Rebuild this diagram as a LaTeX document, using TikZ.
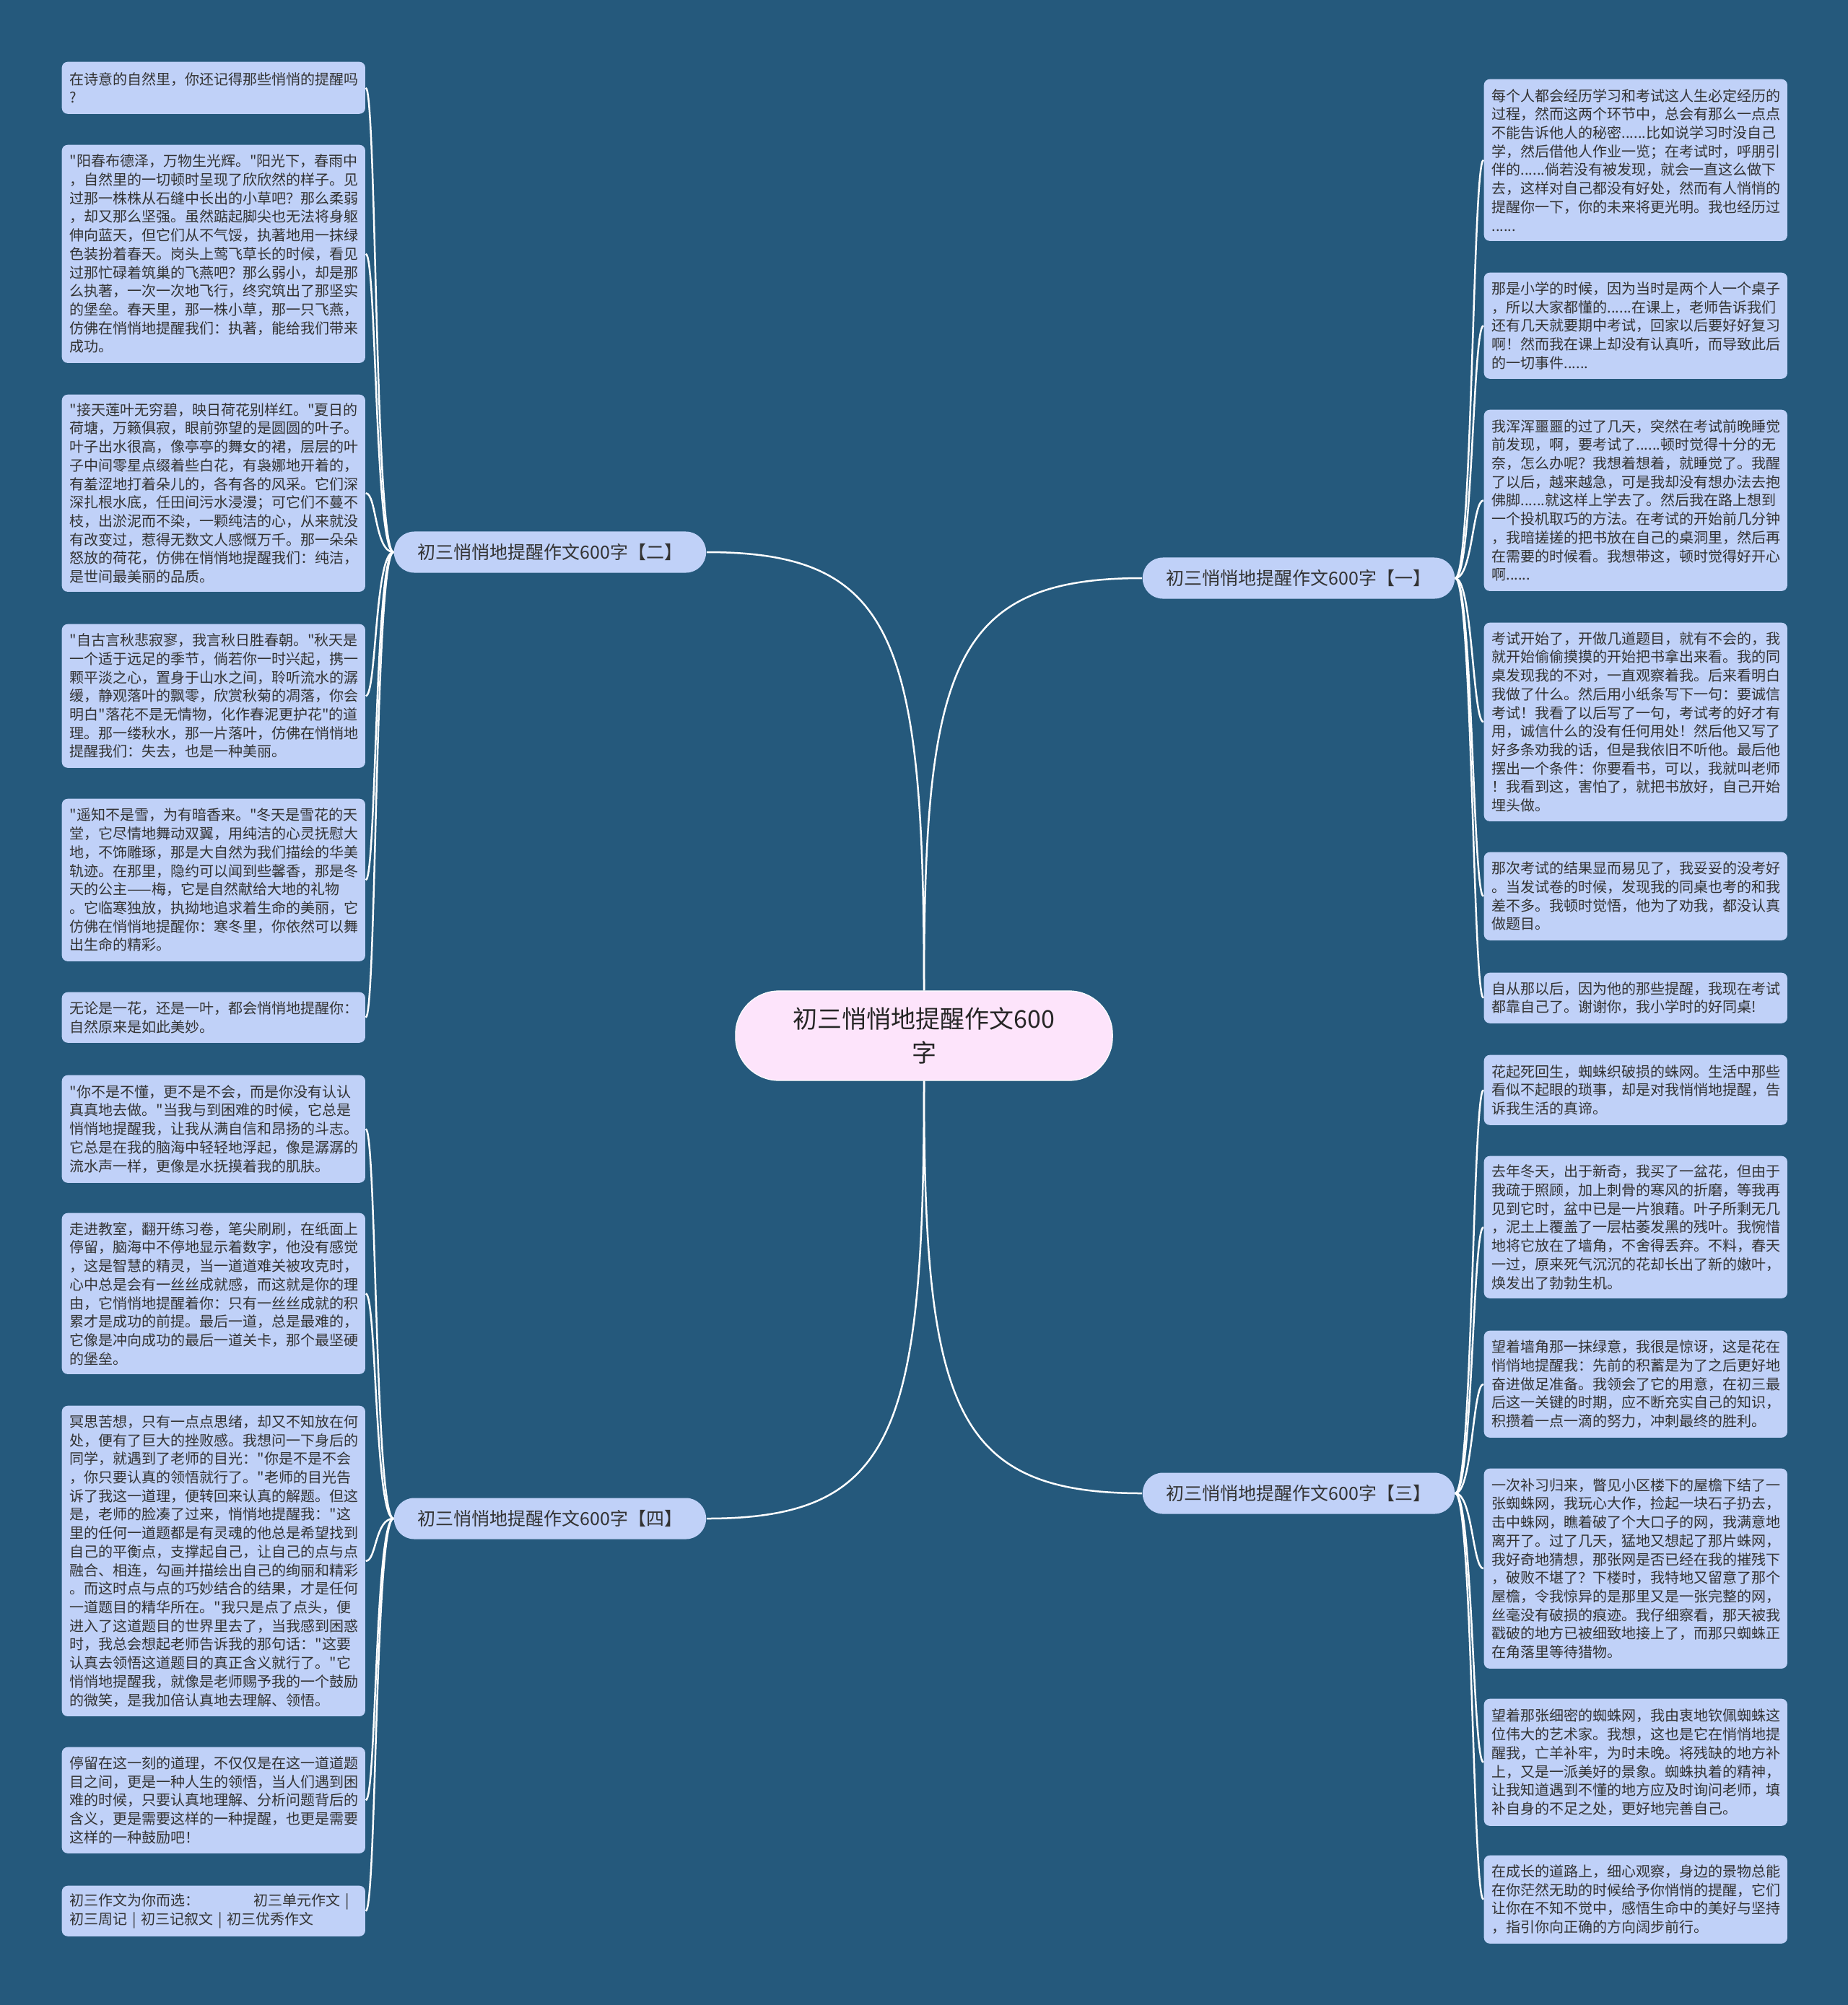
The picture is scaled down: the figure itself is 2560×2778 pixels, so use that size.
\documentclass[tikz,border=0pt]{standalone}
\usepackage{fontspec}
\setmainfont{Noto Sans CJK SC}[Ligatures=TeXOff]
\usepackage{tikz}
\definecolor{bgblue}{HTML}{25597C}
\definecolor{leafblue}{HTML}{C0D1F8}
\definecolor{rootpink}{HTML}{FDE4FB}
\definecolor{inkgrey}{HTML}{333333}

\begin{document}
\begin{tikzpicture}[x=0.01cm,y=-0.01cm,
  leaf/.style={fill=leafblue,rounded corners=0.08cm,anchor=north west,text width=3.98cm,align=left,
    inner xsep=0.11cm,inner ysep=0.05cm,text=inkgrey,font=\fontsize{5.69pt}{7.31pt}\selectfont},
  branch/.style={fill=leafblue,rounded corners=0.28cm,minimum width=4.32cm,minimum height=0.57cm,
    inner sep=0pt,text=inkgrey,font=\fontsize{7.1pt}{8.5pt}\selectfont},
  root/.style={fill=rootpink,draw=white,line width=0.012cm,rounded corners=0.6cm,minimum width=5.22cm,
    minimum height=1.24cm,align=center,text=black!85,font=\fontsize{9.67pt}{13.37pt}\selectfont},
  link/.style={white,line width=0.025cm}]
  \fill[bgblue] (0,0) rectangle (2560,2778);

  \node[root] (ctr) at (1280,1435) {初三悄悄地提醒作文600\\字};
  \node[branch] (b2) at (762,765) {初三悄悄地提醒作文600字【二】};
  \node[branch] (b4) at (762,2104) {初三悄悄地提醒作文600字【四】};
  \node[branch] (b1) at (1799,801) {初三悄悄地提醒作文600字【一】};
  \node[branch] (b3) at (1799,2069) {初三悄悄地提醒作文600字【三】};

  % left column
  \node[leaf,minimum height=0.72cm] (l1) at (85,85) {在诗意的自然里，你还记得那些悄悄的提醒吗\\?};
  \node[leaf,minimum height=3.02cm] (l2) at (85,200) {"阳春布德泽，万物生光辉。"阳光下，春雨中\\
，自然里的一切顿时呈现了欣欣然的样子。见\\
过那一株株从石缝中长出的小草吧？那么柔弱\\
，却又那么坚强。虽然踮起脚尖也无法将身躯\\
伸向蓝天，但它们从不气馁，执著地用一抹绿\\
色装扮着春天。岗头上莺飞草长的时候，看见\\
过那忙碌着筑巢的飞燕吧？那么弱小，却是那\\
么执著，一次一次地飞行，终究筑出了那坚实\\
的堡垒。春天里，那一株小草，那一只飞燕，\\
仿佛在悄悄地提醒我们：执著，能给我们带来\\
成功。};
  \node[leaf,minimum height=2.73cm] (l3) at (85,546) {"接天莲叶无穷碧，映日荷花别样红。"夏日的\\
荷塘，万籁俱寂，眼前弥望的是圆圆的叶子。\\
叶子出水很高，像亭亭的舞女的裙，层层的叶\\
子中间零星点缀着些白花，有袅娜地开着的，\\
有羞涩地打着朵儿的，各有各的风采。它们深\\
深扎根水底，任田间污水浸漫；可它们不蔓不\\
枝，出淤泥而不染，一颗纯洁的心，从来就没\\
有改变过，惹得无数文人感慨万千。那一朵朵\\
怒放的荷花，仿佛在悄悄地提醒我们：纯洁，\\
是世间最美丽的品质。};
  \node[leaf,minimum height=1.99cm] (l4) at (85,864) {"自古言秋悲寂寥，我言秋日胜春朝。"秋天是\\
一个适于远足的季节，倘若你一时兴起，携一\\
颗平淡之心，置身于山水之间，聆听流水的潺\\
缓，静观落叶的飘零，欣赏秋菊的凋落，你会\\
明白"落花不是无情物，化作春泥更护花"的道\\
理。那一缕秋水，那一片落叶，仿佛在悄悄地\\
提醒我们：失去，也是一种美丽。};
  \node[leaf,minimum height=2.25cm] (l5) at (85,1106) {"遥知不是雪，为有暗香来。"冬天是雪花的天\\
堂，它尽情地舞动双翼，用纯洁的心灵抚慰大\\
地，不饰雕琢，那是大自然为我们描绘的华美\\
轨迹。在那里，隐约可以闻到些馨香，那是冬\\
天的公主——梅，它是自然献给大地的礼物\\
。它临寒独放，执拗地追求着生命的美丽，它\\
仿佛在悄悄地提醒你：寒冬里，你依然可以舞\\
出生命的精彩。};
  \node[leaf,minimum height=0.70cm] (l6) at (85,1374) {无论是一花，还是一叶，都会悄悄地提醒你：\\
自然原来是如此美妙。};
  \node[leaf,minimum height=1.49cm] (l7) at (85,1489) {"你不是不懂，更不是不会，而是你没有认认\\
真真地去做。"当我与到困难的时候，它总是\\
悄悄地提醒我，让我从满自信和昂扬的斗志。\\
它总是在我的脑海中轻轻地浮起，像是潺潺的\\
流水声一样，更像是水抚摸着我的肌肤。};
  \node[leaf,minimum height=2.23cm] (l8) at (85,1680) {走进教室，翻开练习卷，笔尖刷刷，在纸面上\\
停留，脑海中不停地显示着数字，他没有感觉\\
，这是智慧的精灵，当一道道难关被攻克时，\\
心中总是会有一丝丝成就感，而这就是你的理\\
由，它悄悄地提醒着你：只有一丝丝成就的积\\
累才是成功的前提。最后一道，总是最难的，\\
它像是冲向成功的最后一道关卡，那个最坚硬\\
的堡垒。};
  \node[leaf,minimum height=4.30cm] (l9) at (85,1947) {冥思苦想，只有一点点思绪，却又不知放在何\\
处，便有了巨大的挫败感。我想问一下身后的\\
同学，就遇到了老师的目光："你是不是不会\\
，你只要认真的领悟就行了。"老师的目光告\\
诉了我这一道理，便转回来认真的解题。但这\\
是，老师的脸凑了过来，悄悄地提醒我："这\\
里的任何一道题都是有灵魂的他总是希望找到\\
自己的平衡点，支撑起自己，让自己的点与点\\
融合、相连，勾画并描绘出自己的绚丽和精彩\\
。而这时点与点的巧妙结合的结果，才是任何\\
一道题目的精华所在。"我只是点了点头，便\\
进入了这道题目的世界里去了，当我感到困惑\\
时，我总会想起老师告诉我的那句话："这要\\
认真去领悟这道题目的真正含义就行了。"它\\
悄悄地提醒我，就像是老师赐予我的一个鼓励\\
的微笑，是我加倍认真地去理解、领悟。};
  \node[leaf,minimum height=1.47cm] (l10) at (85,2420) {停留在这一刻的道理，不仅仅是在这一道道题\\
目之间，更是一种人生的领悟，当人们遇到困\\
难的时候，只要认真地理解、分析问题背后的\\
含义，更是需要这样的一种提醒，也更是需要\\
这样的一种鼓励吧！};
  \node[leaf,minimum height=0.70cm] (l11) at (85,2612) {初三作文为你而选：\hspace{0.75cm}初三单元作文~|\\
初三周记~|~初三记叙文~|~初三优秀作文};

  % right column
  \node[leaf,minimum height=2.24cm] (r1) at (2055,109) {每个人都会经历学习和考试这人生必定经历的\\
过程，然而这两个环节中，总会有那么一点点\\
不能告诉他人的秘密......比如说学习时没自己\\
学，然后借他人作业一览；在考试时，呼朋引\\
伴的......倘若没有被发现，就会一直这么做下\\
去，这样对自己都没有好处，然而有人悄悄的\\
提醒你一下，你的未来将更光明。我也经历过\\
......};
  \node[leaf,minimum height=1.47cm] (r2) at (2055,377) {那是小学的时候，因为当时是两个人一个桌子\\
，所以大家都懂的......在课上，老师告诉我们\\
还有几天就要期中考试，回家以后要好好复习\\
啊！然而我在课上却没有认真听，而导致此后\\
的一切事件......};
  \node[leaf,minimum height=2.51cm] (r3) at (2055,567) {我浑浑噩噩的过了几天，突然在考试前晚睡觉\\
前发现，啊，要考试了......顿时觉得十分的无\\
奈，怎么办呢？我想着想着，就睡觉了。我醒\\
了以后，越来越急，可是我却没有想办法去抱\\
佛脚......就这样上学去了。然后我在路上想到\\
一个投机取巧的方法。在考试的开始前几分钟\\
，我暗搓搓的把书放在自己的桌洞里，然后再\\
在需要的时候看。我想带这，顿时觉得好开心\\
啊......};
  \node[leaf,minimum height=2.75cm] (r4) at (2055,862) {考试开始了，开做几道题目，就有不会的，我\\
就开始偷偷摸摸的开始把书拿出来看。我的同\\
桌发现我的不对，一直观察着我。后来看明白\\
我做了什么。然后用小纸条写下一句：要诚信\\
考试！我看了以后写了一句，考试考的好才有\\
用，诚信什么的没有任何用处！然后他又写了\\
好多条劝我的话，但是我依旧不听他。最后他\\
摆出一个条件：你要看书，可以，我就叫老师\\
！我看到这，害怕了，就把书放好，自己开始\\
埋头做。};
  \node[leaf,minimum height=1.22cm] (r5) at (2055,1180) {那次考试的结果显而易见了，我妥妥的没考好\\
。当发试卷的时候，发现我的同桌也考的和我\\
差不多。我顿时觉悟，他为了劝我，都没认真\\
做题目。};
  \node[leaf,minimum height=0.70cm] (r6) at (2055,1347) {自从那以后，因为他的那些提醒，我现在考试\\
都靠自己了。谢谢你，我小学时的好同桌!};
  \node[leaf,minimum height=0.97cm] (r7) at (2055,1461) {花起死回生，蜘蛛织破损的蛛网。生活中那些\\
看似不起眼的琐事，却是对我悄悄地提醒，告\\
诉我生活的真谛。};
  \node[leaf,minimum height=1.97cm] (r8) at (2055,1601) {去年冬天，出于新奇，我买了一盆花，但由于\\
我疏于照顾，加上刺骨的寒风的折磨，等我再\\
见到它时，盆中已是一片狼藉。叶子所剩无几\\
，泥土上覆盖了一层枯萎发黑的残叶。我惋惜\\
地将它放在了墙角，不舍得丢弃。不料，春天\\
一过，原来死气沉沉的花却长出了新的嫩叶，\\
焕发出了勃勃生机。};
  \node[leaf,minimum height=1.48cm] (r9) at (2055,1843) {望着墙角那一抹绿意，我很是惊讶，这是花在\\
悄悄地提醒我：先前的积蓄是为了之后更好地\\
奋进做足准备。我领会了它的用意，在初三最\\
后这一关键的时期，应不断充实自己的知识，\\
积攒着一点一滴的努力，冲刺最终的胜利。};
  \node[leaf,minimum height=2.77cm] (r10) at (2055,2034) {一次补习归来，瞥见小区楼下的屋檐下结了一\\
张蜘蛛网，我玩心大作，捡起一块石子扔去，\\
击中蛛网，瞧着破了个大口子的网，我满意地\\
离开了。过了几天，猛地又想起了那片蛛网，\\
我好奇地猜想，那张网是否已经在我的摧残下\\
，破败不堪了？下楼时，我特地又留意了那个\\
屋檐，令我惊异的是那里又是一张完整的网，\\
丝毫没有破损的痕迹。我仔细察看，那天被我\\
戳破的地方已被细致地接上了，而那只蜘蛛正\\
在角落里等待猎物。};
  \node[leaf,minimum height=1.76cm] (r11) at (2055,2353) {望着那张细密的蜘蛛网，我由衷地钦佩蜘蛛这\\
位伟大的艺术家。我想，这也是它在悄悄地提\\
醒我，亡羊补牢，为时未晚。将残缺的地方补\\
上，又是一派美好的景象。蜘蛛执着的精神，\\
让我知道遇到不懂的地方应及时询问老师，填\\
补自身的不足之处，更好地完善自己。};
  \node[leaf,minimum height=1.22cm] (r12) at (2055,2570) {在成长的道路上，细心观察，身边的景物总能\\
在你茫然无助的时候给予你悄悄的提醒，它们\\
让你在不知不觉中，感悟生命中的美好与坚持\\
，指引你向正确的方向阔步前行。};

  % root to branches
  \draw[link] (ctr.north) .. controls +(0,-487) and +(262,0) .. (b2.east);
  \draw[link] (ctr.north) .. controls +(0,-451) and +(-262,0) .. (b1.west);
  \draw[link] (ctr.south) .. controls +(0,486) and +(262,0) .. (b4.east);
  \draw[link] (ctr.south) .. controls +(0,451) and +(-262,0) .. (b3.west);

  % branches to leaves
  \draw[link] (b2.west) .. controls +(-26,0) and +(15,0) .. (l1.east);
  \draw[link] (b2.west) .. controls +(-26,0) and +(15,0) .. (l2.east);
  \draw[link] (b2.west) .. controls +(-26,0) and +(15,0) .. (l3.east);
  \draw[link] (b2.west) .. controls +(-26,0) and +(15,0) .. (l4.east);
  \draw[link] (b2.west) .. controls +(-26,0) and +(15,0) .. (l5.east);
  \draw[link] (b2.west) .. controls +(-26,0) and +(15,0) .. (l6.east);
  \draw[link] (b4.west) .. controls +(-26,0) and +(15,0) .. (l7.east);
  \draw[link] (b4.west) .. controls +(-26,0) and +(15,0) .. (l8.east);
  \draw[link] (b4.west) .. controls +(-26,0) and +(15,0) .. (l9.east);
  \draw[link] (b4.west) .. controls +(-26,0) and +(15,0) .. (l10.east);
  \draw[link] (b4.west) .. controls +(-26,0) and +(15,0) .. (l11.east);
  \draw[link] (b1.east) .. controls +(24,0) and +(-15,0) .. (r1.west);
  \draw[link] (b1.east) .. controls +(24,0) and +(-15,0) .. (r2.west);
  \draw[link] (b1.east) .. controls +(24,0) and +(-15,0) .. (r3.west);
  \draw[link] (b1.east) .. controls +(24,0) and +(-15,0) .. (r4.west);
  \draw[link] (b1.east) .. controls +(24,0) and +(-15,0) .. (r5.west);
  \draw[link] (b1.east) .. controls +(24,0) and +(-15,0) .. (r6.west);
  \draw[link] (b3.east) .. controls +(24,0) and +(-15,0) .. (r7.west);
  \draw[link] (b3.east) .. controls +(24,0) and +(-15,0) .. (r8.west);
  \draw[link] (b3.east) .. controls +(24,0) and +(-15,0) .. (r9.west);
  \draw[link] (b3.east) .. controls +(24,0) and +(-15,0) .. (r10.west);
  \draw[link] (b3.east) .. controls +(24,0) and +(-15,0) .. (r11.west);
  \draw[link] (b3.east) .. controls +(24,0) and +(-15,0) .. (r12.west);
\end{tikzpicture}
\end{document}
